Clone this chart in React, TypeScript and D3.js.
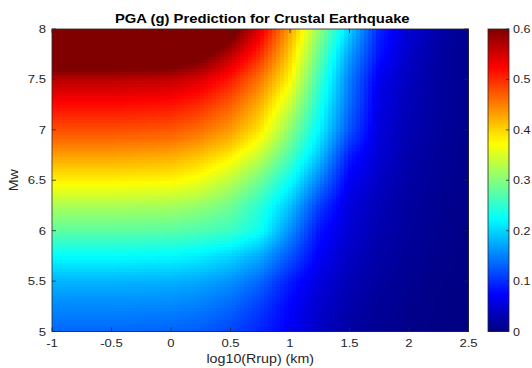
import React from "react";
import * as d3 from "d3";

// Grid: PGA (g) at log10(Rrup) columns for each Mw row
const logR = [-1, -0.5, 0, 0.25, 0.5, 0.75, 1, 1.25, 1.5, 1.75, 2, 2.25, 2.5];
const mwRows = [5, 5.25, 5.5, 5.75, 6, 6.25, 6.5, 6.75, 7, 7.25, 7.5, 7.75, 8];

const pgaM500 = [0.135, 0.135, 0.133, 0.128, 0.115, 0.095, 0.07, 0.04, 0.02, 0.011, 0.006, 0.003, 0.001];
const pgaM525 = [0.155, 0.155, 0.153, 0.148, 0.135, 0.11, 0.075, 0.045, 0.026, 0.014, 0.008, 0.004, 0.002];
const pgaM550 = [0.18, 0.18, 0.178, 0.172, 0.16, 0.135, 0.09, 0.055, 0.032, 0.018, 0.01, 0.005, 0.002];
const pgaM575 = [0.225, 0.225, 0.222, 0.215, 0.2, 0.175, 0.125, 0.07, 0.04, 0.023, 0.013, 0.007, 0.003];
const pgaM600 = [0.28, 0.28, 0.277, 0.27, 0.26, 0.232, 0.16, 0.085, 0.05, 0.028, 0.016, 0.009, 0.004];
const pgaM625 = [0.325, 0.325, 0.322, 0.312, 0.29, 0.25, 0.19, 0.11, 0.055, 0.033, 0.018, 0.01, 0.005];
const pgaM650 = [0.382, 0.382, 0.378, 0.365, 0.335, 0.29, 0.23, 0.15, 0.07, 0.04, 0.022, 0.012, 0.006];
const pgaM675 = [0.43, 0.43, 0.425, 0.41, 0.385, 0.34, 0.27, 0.19, 0.09, 0.05, 0.026, 0.014, 0.007];
const pgaM700 = [0.48, 0.48, 0.475, 0.46, 0.435, 0.39, 0.31, 0.22, 0.125, 0.055, 0.03, 0.017, 0.008];
const pgaM725 = [0.52, 0.52, 0.515, 0.5, 0.47, 0.42, 0.345, 0.24, 0.14, 0.06, 0.033, 0.018, 0.008];
const pgaM750 = [0.565, 0.565, 0.56, 0.545, 0.51, 0.455, 0.38, 0.26, 0.15, 0.066, 0.036, 0.019, 0.009];
const pgaM775 = [0.655, 0.655, 0.645, 0.62, 0.565, 0.5, 0.405, 0.285, 0.17, 0.085, 0.042, 0.02, 0.009];
const pgaM800 = [0.72, 0.72, 0.71, 0.69, 0.63, 0.54, 0.43, 0.31, 0.2, 0.095, 0.05, 0.025, 0.01];

const grid = [pgaM500, pgaM525, pgaM550, pgaM575, pgaM600, pgaM625, pgaM650, pgaM675, pgaM700, pgaM725, pgaM750, pgaM775, pgaM800];

const xTicks = [-1, -0.5, 0, 0.5, 1, 1.5, 2, 2.5];
const yTicks = [5, 5.5, 6, 6.5, 7, 7.5, 8];
const cTicks = [0, 0.1, 0.2, 0.3, 0.4, 0.5, 0.6];

const title = "PGA (g) Prediction for Crustal Earthquake";
const xLabel = "log10(Rrup) (km)";
const yLabel = "Mw";

const W = 532;
const H = 368;
const L = 52, R = 468.5, T = 29, B = 331.5;
const CBL = 488, CBR = 509;
const ink = "#262626";
const font = "'Liberation Sans', Arial, Helvetica, sans-serif";
const SX = 1.14; // horizontal stretch of the reference's text

const jet = d3
  .scaleLinear<string>()
  .domain([0, 0.075, 0.225, 0.375, 0.525, 0.6])
  .range(["#000080", "#0000ff", "#00ffff", "#ffff00", "#ff0000", "#800000"])
  .clamp(true);

function sample(lx: number, m: number): number {
  let ci = d3.bisectRight(logR, lx) - 1;
  ci = Math.max(0, Math.min(logR.length - 2, ci));
  let ri = d3.bisectRight(mwRows, m) - 1;
  ri = Math.max(0, Math.min(mwRows.length - 2, ri));
  const tx = (lx - logR[ci]) / (logR[ci + 1] - logR[ci]);
  const ty = (m - mwRows[ri]) / (mwRows[ri + 1] - mwRows[ri]);
  const a = d3.interpolateNumber(grid[ri][ci], grid[ri][ci + 1])(tx);
  const b = d3.interpolateNumber(grid[ri + 1][ci], grid[ri + 1][ci + 1])(tx);
  return d3.interpolateNumber(a, b)(ty);
}

function T2({ x, y, size, anchor, children, weight, fill, rotate }: any) {
  const tr = `translate(${x},${y})${rotate ? ` rotate(${rotate})` : ""} scale(${SX},1)`;
  return (
    <text transform={tr} fontSize={size} fontWeight={weight || "normal"} fill={fill || ink} textAnchor={anchor}>
      {children}
    </text>
  );
}

export default function App() {
  const x = d3.scaleLinear().domain([-1, 2.5]).range([L, R]);
  const y = d3.scaleLinear().domain([5, 8]).range([B, T]);
  const c = d3.scaleLinear().domain([0, 0.6]).range([B, T]);

  const nx = 104, ny = 100;
  const dx = 3.5 / nx, dy = 3 / ny;
  const cells: React.ReactNode[] = [];
  for (let j = 0; j < ny; j++) {
    const m0 = 5 + j * dy;
    for (let i = 0; i < nx; i++) {
      const l0 = -1 + i * dx;
      const v = sample(l0 + dx / 2, m0 + dy / 2);
      const x0 = x(l0), x1 = x(l0 + dx);
      const y0 = y(m0 + dy), y1 = y(m0);
      cells.push(
        <rect key={`${i}-${j}`} x={x0} y={y0} width={x1 - x0 + 0.6} height={y1 - y0 + 0.6} fill={jet(v)} />
      );
    }
  }

  const nc = 150;
  const cbar: React.ReactNode[] = [];
  for (let k = 0; k < nc; k++) {
    const v0 = (0.6 * k) / nc, v1 = (0.6 * (k + 1)) / nc;
    cbar.push(
      <rect key={k} x={CBL} y={c(v1)} width={CBR - CBL} height={c(v0) - c(v1) + 0.6} fill={jet((v0 + v1) / 2)} />
    );
  }

  return (
    <svg width={W} height={H} style={{ position: "absolute", left: 0, top: 0 }} fontFamily={font}>
      <rect x={0} y={0} width={W} height={H} fill="#fff" />
      <g shapeRendering="crispEdges">{cells}</g>
      <rect x={L} y={T} width={R - L} height={B - T} fill="none" stroke={ink} strokeWidth={0.8} />
      {xTicks.map((t) => (
        <g key={`xt${t}`}>
          <line x1={x(t)} x2={x(t)} y1={B} y2={B - 4} stroke={ink} strokeWidth={0.8} />
          <line x1={x(t)} x2={x(t)} y1={T} y2={T + 4} stroke={ink} strokeWidth={0.8} />
          <T2 x={x(t)} y={B + 15.5} size={11.5} anchor="middle">
            {String(t)}
          </T2>
        </g>
      ))}
      {yTicks.map((t) => (
        <g key={`yt${t}`}>
          <line x1={L} x2={L + 4} y1={y(t)} y2={y(t)} stroke={ink} strokeWidth={0.8} />
          <line x1={R} x2={R - 4} y1={y(t)} y2={y(t)} stroke={ink} strokeWidth={0.8} />
          <T2 x={L - 6} y={y(t) + 4} size={11.5} anchor="end">
            {String(t)}
          </T2>
        </g>
      ))}
      <T2 x={(L + R) / 2} y={363} size={12.5} anchor="middle">
        {xLabel}
      </T2>
      <T2 x={18} y={(T + B) / 2} size={12.5} anchor="middle" rotate={-90}>
        {yLabel}
      </T2>
      <T2 x={(L + R) / 2 + 2} y={22.5} size={13} weight="bold" fill="#000" anchor="middle">
        {title}
      </T2>
      <g shapeRendering="crispEdges">{cbar}</g>
      <rect x={CBL} y={T} width={CBR - CBL} height={B - T} fill="none" stroke={ink} strokeWidth={0.8} />
      {cTicks.map((t) => (
        <g key={`ct${t}`}>
          <line x1={CBR} x2={CBR - 3} y1={c(t)} y2={c(t)} stroke={ink} strokeWidth={0.8} />
          <T2 x={CBR + 4} y={c(t) + 4} size={11} anchor="start">
            {String(t)}
          </T2>
        </g>
      ))}
    </svg>
  );
}
